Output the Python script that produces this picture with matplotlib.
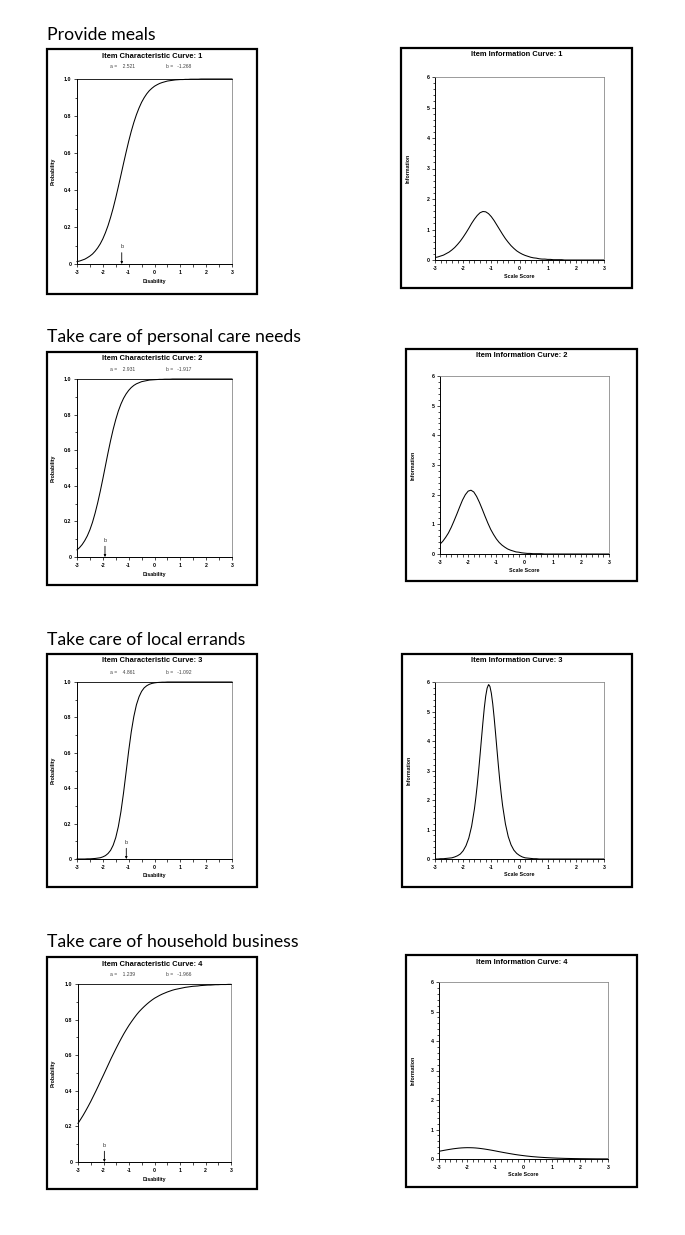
import numpy as np
import matplotlib
matplotlib.use("Agg")
import matplotlib.pyplot as plt
from matplotlib.patches import Rectangle
from matplotlib.ticker import MultipleLocator

W, H = 685, 1235

# data
items = ["Provide meals", "Take care of personal care needs",
         "Take care of local errands", "Take care of household business"]
a_params = ["2.521", "2.931", "4.861", "1.239"]
b_params = [-1.268, -1.917, -1.092, -1.966]

# scale score positions, every 0.1 from -3 to 3
score = np.round(np.linspace(-3, 3, 61), 1)

prob_1 = [.013, .016, .021, .026, .034, .043, .054, .069, .087, .109,
          .136, .169, .207, .252, .302, .358, .418, .480, .543, .604,
          .663, .717, .765, .807, .843, .874, .899, .920, .937, .950,
          .961, .969, .976, .981, .985, .989, .991, .993, .995, .996,
          .997, .997, .998, .998, .999, .999, .999, .999] + [1.0] * 13
prob_2 = [.040, .053, .070, .092, .119, .153, .195, .246, .304, .369,
          .439, .512, .585, .654, .717, .772, .820, .859, .891, .916,
          .936, .952, .964, .973, .979, .985, .988, .991, .994, .995,
          .996, .997, .998, .998, .999, .999, .999] + [1.0] * 24
prob_3 = [0, 0, 0, 0, .001, .001, .002, .003, .005, .007,
          .012, .019, .031, .049, .078, .121, .183, .267, .372, .490,
          .610, .718, .805, .871, .916, .947, .967, .979, .987, .992,
          .995, .997, .998, .999, .999] + [1.0] * 26
prob_4 = [.217, .239, .262, .287, .313, .340, .369, .398, .428, .459,
          .489, .520, .551, .582, .611, .640, .668, .695, .721, .745,
          .768, .789, .809, .828, .845, .860, .874, .887, .899, .910,
          .920, .928, .936, .943, .949, .955, .960, .965, .969, .972,
          .975, .978, .981, .983, .985, .987, .988, .989, .991, .992,
          .993, .994, .994, .995, .996, .996, .997, .997, .997, .998, .998]

info_1 = [0.08, 0.10, 0.13, 0.16, 0.21, 0.26, 0.33, 0.41, 0.51, 0.62,
          0.75, 0.89, 1.04, 1.20, 1.34, 1.46, 1.55, 1.59, 1.58, 1.52,
          1.42, 1.29, 1.14, 0.99, 0.84, 0.70, 0.58, 0.47, 0.38, 0.30,
          0.24, 0.19, 0.15, 0.12, 0.09, 0.07, 0.06, 0.04, 0.03, 0.03,
          0.02, 0.02, 0.01, 0.01, 0.01, 0.01] + [0.0] * 15
info_2 = [0.33, 0.43, 0.56, 0.71, 0.90, 1.12, 1.35, 1.59, 1.82, 2.00,
          2.12, 2.15, 2.09, 1.94, 1.74, 1.51, 1.27, 1.04, 0.83, 0.66,
          0.51, 0.39, 0.30, 0.23, 0.17, 0.13, 0.10, 0.07, 0.06, 0.04,
          0.03, 0.02, 0.02, 0.01, 0.01, 0.01, 0.01] + [0.0] * 24
info_3 = [0.0, 0.0, 0.01, 0.01, 0.02, 0.03, 0.04, 0.07, 0.11, 0.17,
          0.28, 0.45, 0.71, 1.11, 1.70, 2.51, 3.53, 4.62, 5.52, 5.91,
          5.62, 4.79, 3.71, 2.66, 1.81, 1.19, 0.76, 0.48, 0.30, 0.19,
          0.12, 0.07, 0.04, 0.03, 0.02, 0.01, 0.01] + [0.0] * 24
# extra readings around the sharp peak of item 3
peak_score_3 = [-1.55, -1.45, -1.35, -1.25, -1.15, -1.092, -1.05, -0.95, -0.85, -0.75, -0.65]
peak_info_3 = [2.08, 3.00, 4.08, 5.12, 5.79, 5.91, 5.85, 5.26, 4.26, 3.17, 2.21]
info_4 = [0.261, 0.279, 0.297, 0.314, 0.330, 0.345, 0.357, 0.368, 0.376, 0.381,
          0.384, 0.383, 0.380, 0.374, 0.365, 0.353, 0.340, 0.325, 0.309, 0.292,
          0.274, 0.255, 0.237, 0.219, 0.202, 0.185, 0.169, 0.153, 0.139, 0.126,
          0.114, 0.102, 0.092, 0.082, 0.074, 0.066, 0.059, 0.053, 0.047, 0.042,
          0.037, 0.033, 0.029, 0.026, 0.023, 0.020, 0.018, 0.016, 0.014, 0.013,
          0.011, 0.010, 0.009, 0.008, 0.007, 0.006, 0.005, 0.005, 0.004, 0.004, 0.003]

prob_curves = [prob_1, prob_2, prob_3, prob_4]

x3 = np.concatenate([score, peak_score_3])
y3 = np.concatenate([info_3, peak_info_3])
order = np.argsort(x3, kind="stable")
info_xy = [(score, info_1), (score, info_2), (x3[order], y3[order]), (score, info_4)]

# layout, in pixels: (left, top, right, bottom)
heading_y = [35, 337, 640, 942]
icc_box = [(47, 49, 257, 294), (47, 352, 257, 585), (47, 654, 257, 887), (47, 957, 257, 1189)]
icc_plot = [(77, 79, 232, 264), (77, 379, 232, 557), (77, 682, 232, 859), (78, 984, 231, 1162)]
iic_box = [(401, 48, 632, 288), (406, 349, 637, 581), (402, 654, 632, 887), (406, 955, 637, 1187)]
iic_plot = [(435, 77, 604, 260), (440, 376, 609, 554), (435, 682, 604, 859), (439, 982, 608, 1159)]

plt.rcParams["font.family"] = ["Liberation Sans", "DejaVu Sans"]

fig = plt.figure(figsize=(W / 100, H / 100), dpi=100)


def fx(px):
    return px / W


def fy(px):
    return 1 - px / H


def frame(l, t, r, b):
    fig.patches.append(Rectangle((fx(l), fy(b)), (r - l) / W, (b - t) / H,
                                 transform=fig.transFigure, fill=False,
                                 lw=1.6, ec="black"))


def make_axes(l, t, r, b):
    ax = fig.add_axes([fx(l), fy(b), (r - l) / W, (b - t) / H])
    for side in ["left", "bottom"]:
        ax.spines[side].set_color("black")
        ax.spines[side].set_linewidth(0.7)
    for side in ["top", "right"]:
        ax.spines[side].set_color("#8a8a8a")
        ax.spines[side].set_linewidth(0.6)
    ax.tick_params(which="both", direction="out", width=0.5, pad=1.5)
    ax.tick_params(which="major", length=2.5)
    ax.tick_params(which="minor", length=1.8)
    ax.set_xlim(-3, 3)
    ax.set_xticks([-3, -2, -1, 0, 1, 2, 3])
    ax.set_xticklabels(["-3", "-2", "-1", "0", "1", "2", "3"],
                       fontsize=3.8, fontweight="bold")
    return ax


for i in range(4):
    fig.text(fx(47), fy(heading_y[i]), items[i], fontsize=12.7,
             family=["Lato", "DejaVu Sans"], va="center", ha="left")

    # item characteristic curve
    l, t, r, b = icc_box[i]
    frame(l, t, r, b)
    cx = (l + r) / 2
    fig.text(fx(cx), fy(t + 7), "Item Characteristic Curve: %d" % (i + 1),
             fontsize=5.4, fontweight="bold", ha="center", va="center")
    fig.text(fx(110), fy(t + 18), "a =    " + a_params[i], fontsize=3.6,
             color="#444444", ha="left", va="center")
    fig.text(fx(166), fy(t + 18), "b =   %.3f" % b_params[i], fontsize=3.6,
             color="#444444", ha="left", va="center")

    pl, pt, pr, pb = icc_plot[i]
    ax = make_axes(pl, pt, pr, pb)
    ax.spines["top"].set_color("black")
    ax.plot(score, prob_curves[i], color="black", lw=0.75, clip_on=False)
    ax.set_ylim(0, 1)
    ax.set_yticks([0, 0.2, 0.4, 0.6, 0.8, 1.0])
    ax.set_yticklabels(["0", "0.2", "0.4", "0.6", "0.8", "1.0"],
                       fontsize=3.8, fontweight="bold")
    ax.xaxis.set_minor_locator(MultipleLocator(0.5))
    ax.yaxis.set_minor_locator(MultipleLocator(0.1))
    ax.annotate("b", xy=(b_params[i], 0), xytext=(b_params[i], 0.08),
                ha="center", va="bottom", fontsize=4, color="#333333",
                arrowprops=dict(arrowstyle="-|>", color="black", lw=0.6,
                                mutation_scale=3, shrinkA=0.5, shrinkB=0))
    fig.text(fx(53), fy((pt + pb) / 2), "Probability", rotation=90,
             fontsize=3.8, fontweight="bold", ha="center", va="center")
    fig.text(fx((pl + pr) / 2), fy(pb + 17), "Disability",
             fontsize=3.8, fontweight="bold", ha="center", va="center")

    # item information curve
    l, t, r, b = iic_box[i]
    frame(l, t, r, b)
    cx = (l + r) / 2
    fig.text(fx(cx), fy(t + 7), "Item Information Curve: %d" % (i + 1),
             fontsize=5.4, fontweight="bold", ha="center", va="center")

    pl, pt, pr, pb = iic_plot[i]
    ax = make_axes(pl, pt, pr, pb)
    xs, ys = info_xy[i]
    ax.plot(xs, ys, color="black", lw=0.75)
    ax.set_ylim(0, 6)
    ax.set_yticks(range(7))
    ax.set_yticklabels([str(v) for v in range(7)],
                       fontsize=3.8, fontweight="bold")
    ax.xaxis.set_minor_locator(MultipleLocator(0.2))
    ax.yaxis.set_minor_locator(MultipleLocator(0.2))
    fig.text(fx(l + 7), fy((pt + pb) / 2), "Information", rotation=90,
             fontsize=3.8, fontweight="bold", ha="center", va="center")
    fig.text(fx((pl + pr) / 2), fy(pb + 16), "Scale Score",
             fontsize=3.8, fontweight="bold", ha="center", va="center")

fig.savefig("out.png", dpi=100)
